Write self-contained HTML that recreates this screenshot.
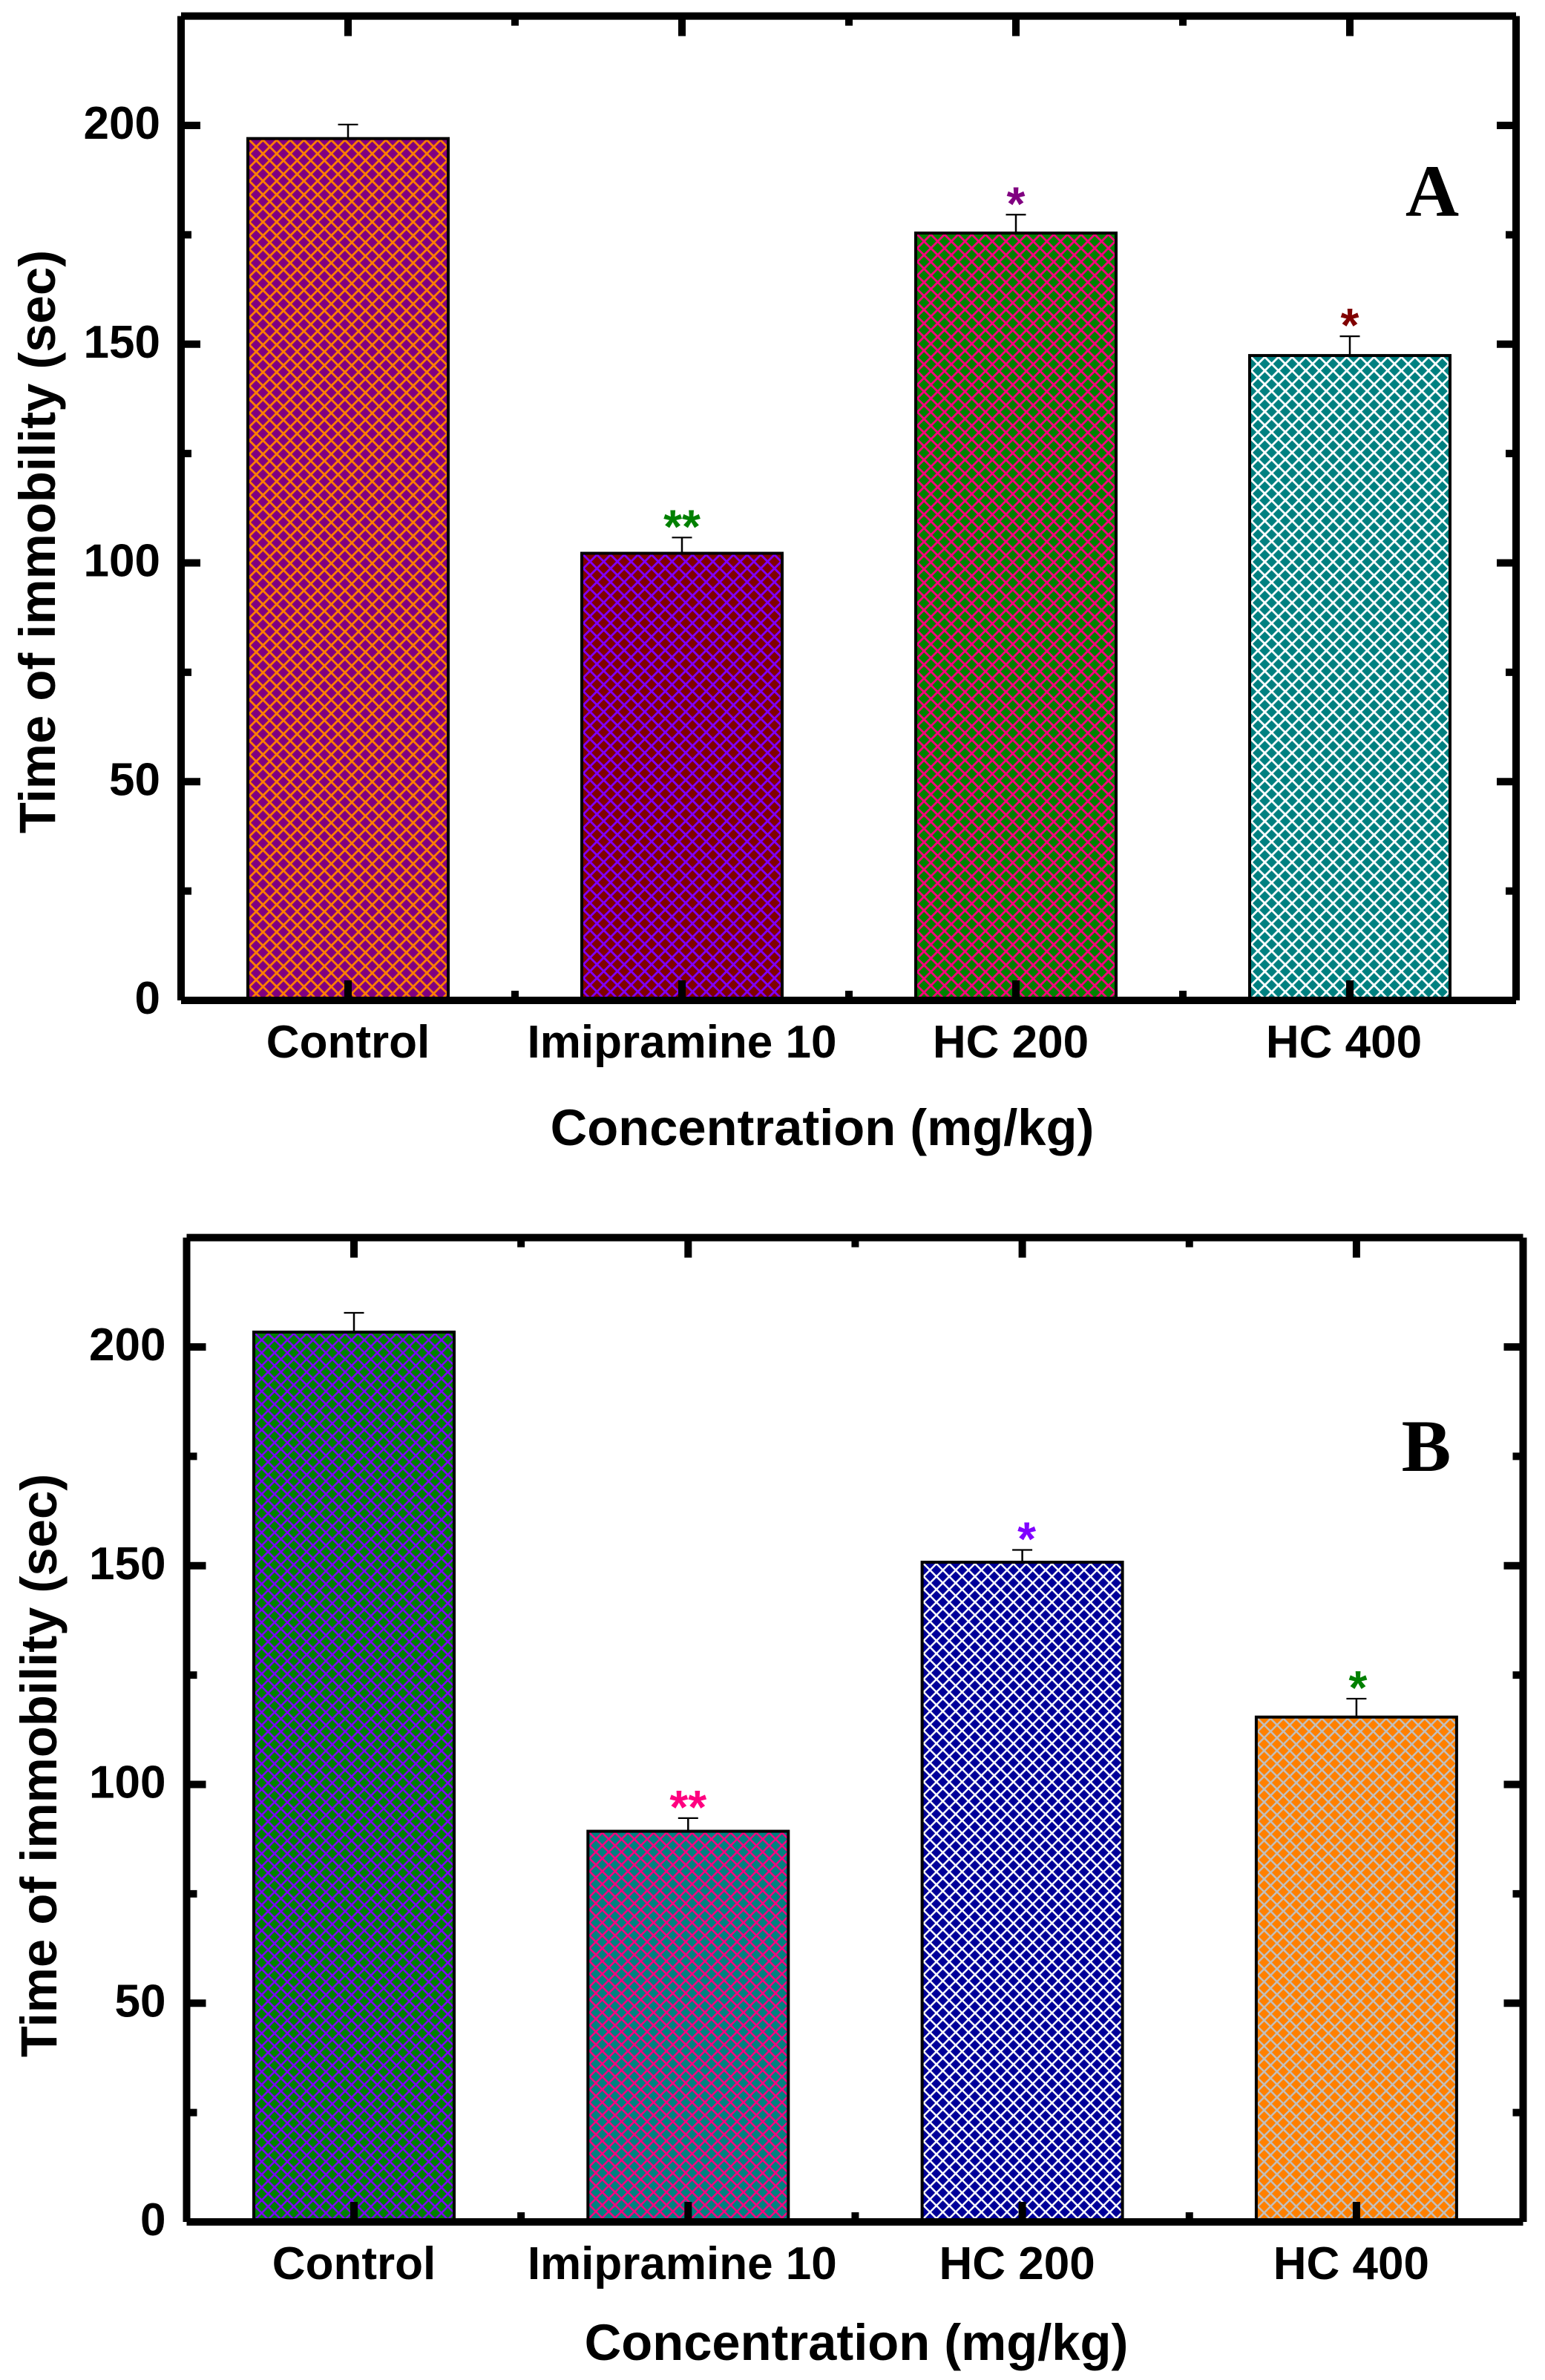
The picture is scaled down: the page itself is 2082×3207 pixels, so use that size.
<!DOCTYPE html>
<html lang="en">
<head>
<meta charset="utf-8">
<title>Time of immobility by concentration</title>
<style>
html,body{margin:0;padding:0;background:#fff;}
svg{display:block;}
text{font-family:"Liberation Sans",Arial,sans-serif;font-weight:bold;fill:#000;}
.panel-letter{font-family:"Liberation Serif","Times New Roman",serif;font-size:100px;text-anchor:middle;}
</style>
</head>
<body>
<svg id="figure" xmlns="http://www.w3.org/2000/svg" width="2082" height="3207" viewBox="0 0 2082 3207">
<rect x="0" y="0" width="2082" height="3207" fill="#ffffff"/>
<defs>
<pattern id="hatch-a-0" width="18.4" height="18.4" patternUnits="userSpaceOnUse"><rect width="19" height="19" fill="#800080"/><path d="M-2 -2L20.4 20.4M20.4 -2L-2 20.4M16.4 -2L20.4 2M-2 16.4L2 20.4M-2 2L2 -2M16.4 20.4L20.4 16.4" stroke="#ff8000" stroke-width="2.8" fill="none"/></pattern>
<pattern id="hatch-a-1" width="18.4" height="18.4" patternUnits="userSpaceOnUse"><rect width="19" height="19" fill="#800000"/><path d="M-2 -2L20.4 20.4M20.4 -2L-2 20.4M16.4 -2L20.4 2M-2 16.4L2 20.4M-2 2L2 -2M16.4 20.4L20.4 16.4" stroke="#8000ff" stroke-width="2.8" fill="none"/></pattern>
<pattern id="hatch-a-2" width="18.4" height="18.4" patternUnits="userSpaceOnUse"><rect width="19" height="19" fill="#008000"/><path d="M-2 -2L20.4 20.4M20.4 -2L-2 20.4M16.4 -2L20.4 2M-2 16.4L2 20.4M-2 2L2 -2M16.4 20.4L20.4 16.4" stroke="#ff0080" stroke-width="2.8" fill="none"/></pattern>
<pattern id="hatch-a-3" width="18.4" height="18.4" patternUnits="userSpaceOnUse"><rect width="19" height="19" fill="#008080"/><path d="M-2 -2L20.4 20.4M20.4 -2L-2 20.4M16.4 -2L20.4 2M-2 16.4L2 20.4M-2 2L2 -2M16.4 20.4L20.4 16.4" stroke="#ffffff" stroke-width="2.8" fill="none"/></pattern>
<pattern id="hatch-b-0" width="17.3" height="17.3" patternUnits="userSpaceOnUse"><rect width="18" height="18" fill="#008000"/><path d="M-2 -2L19.3 19.3M19.3 -2L-2 19.3M15.3 -2L19.3 2M-2 15.3L2 19.3M-2 2L2 -2M15.3 19.3L19.3 15.3" stroke="#8000ff" stroke-width="2.5" fill="none"/></pattern>
<pattern id="hatch-b-1" width="17.3" height="17.3" patternUnits="userSpaceOnUse"><rect width="18" height="18" fill="#008080"/><path d="M-2 -2L19.3 19.3M19.3 -2L-2 19.3M15.3 -2L19.3 2M-2 15.3L2 19.3M-2 2L2 -2M15.3 19.3L19.3 15.3" stroke="#ff0080" stroke-width="2.5" fill="none"/></pattern>
<pattern id="hatch-b-2" width="17.3" height="17.3" patternUnits="userSpaceOnUse"><rect width="18" height="18" fill="#000099"/><path d="M-2 -2L19.3 19.3M19.3 -2L-2 19.3M15.3 -2L19.3 2M-2 15.3L2 19.3M-2 2L2 -2M15.3 19.3L19.3 15.3" stroke="#ffffff" stroke-width="2.5" fill="none"/></pattern>
<pattern id="hatch-b-3" width="17.3" height="17.3" patternUnits="userSpaceOnUse"><rect width="18" height="18" fill="#ff8000"/><path d="M-2 -2L19.3 19.3M19.3 -2L-2 19.3M15.3 -2L19.3 2M-2 15.3L2 19.3M-2 2L2 -2M15.3 19.3L19.3 15.3" stroke="#c0c0c0" stroke-width="2.5" fill="none"/></pattern>
</defs>
<g id="panel-a"></g>
<g id="panel-b"></g>
</svg>
<script>
// Chart data
const categories = ['Control', 'Imipramine 10', 'HC 200', 'HC 400'];
const yTicks = [0, 50, 100, 150, 200];
const yMinorTicks = [25, 75, 125, 175];
const yMax = 225;
const meansA = [197, 102.2, 175.4, 147.4];
const errorsA = [3.2, 3.6, 4.2, 4.4];
const starsA = ['', '**', '*', '*'];
const meansB = [203.4, 89.3, 150.8, 115.4];
const errorsB = [4.4, 3, 2.8, 4.2];
const starsB = ['', '**', '*', '*'];

// Styles and layout (not data)
const starColorsA = ['#000', '#008000', '#800080', '#800000'];
const starColorsB = ['#000', '#ff0080', '#8000ff', '#008000'];
const labelShiftA = [0, 0, -7, -8];
const labelShiftB = [0, -8, -7, -7];
const starShiftA = [0, 0, 0, 0];
const starShiftB = [0, 0, 6, 2];

const NS = 'http://www.w3.org/2000/svg';
function make(tag, parent) {
  const node = document.createElementNS(NS, tag);
  parent.appendChild(node);
  return node;
}
function line(parent, x1, y1, x2, y2, w) {
  const l = make('line', parent);
  l.setAttribute('x1', x1);
  l.setAttribute('y1', y1);
  l.setAttribute('x2', x2);
  l.setAttribute('y2', y2);
  l.setAttribute('stroke', '#000');
  l.setAttribute('stroke-width', w);
  return l;
}
function label(parent, x, y, size, anchor, str) {
  const t = make('text', parent);
  t.setAttribute('x', x);
  t.setAttribute('y', y);
  t.setAttribute('font-size', size);
  t.setAttribute('text-anchor', anchor);
  t.textContent = str;
  return t;
}
function slug(s) {
  return s.toLowerCase().replace(/\s+/g, '-');
}

function drawPanel(cfg) {
  const g = document.getElementById(cfg.id);
  const xScale = function (i) { return cfg.x0 + i * cfg.step; };
  const yScale = function (v) { return cfg.bottom - v * cfg.unit; };
  const left = cfg.left;
  const right = cfg.right;
  const top = yScale(yMax);
  const bottom = yScale(0);
  const barW = 270;

  // bars and error bars
  cfg.means.forEach(function (v, i) {
    const slugName = slug(categories[i]);
    const cx = xScale(i);
    const yTop = yScale(v);
    const pattern = document.getElementById('hatch-' + cfg.key + '-' + i);
    pattern.setAttribute('x', cx - barW / 2 + 2);
    pattern.setAttribute('y', yTop + 2);

    const errTop = yScale(v + cfg.errors[i]);
    const stem = line(g, cx, yTop, cx, errTop, 2.5);
    
    
    const cap = line(g, cx - 13.5, errTop, cx + 13.5, errTop, 2.2);
    
    

    const r = make('rect', g);
    r.setAttribute('x', cx - barW / 2);
    r.setAttribute('y', yTop);
    r.setAttribute('width', barW);
    r.setAttribute('height', bottom - yTop);
    r.setAttribute('fill', 'url(#hatch-' + cfg.key + '-' + i + ')');
    r.setAttribute('stroke', '#000');
    r.setAttribute('stroke-width', 4);
    
    

    if (cfg.stars[i]) {
      const s = label(g, cx + cfg.starShift[i], errTop + 7, 64, 'middle', cfg.stars[i]);
      s.setAttribute('fill', cfg.starColors[i]);
      s.style.fill = cfg.starColors[i];
      
      
    }

    const xl = label(g, cx + cfg.labelShift[i], cfg.xLabelY, 62, 'middle', categories[i]);
    
    
  });

  // y ticks
  yTicks.forEach(function (v) {
    const y = yScale(v);
    const a = line(g, left, y, left + 26, y, 10);
    
    
    const b = line(g, right, y, right - 26, y, 10);
    
    
    const t = label(g, left - 28, y + 18, 62, 'end', String(v));
    
    
  });
  yMinorTicks.forEach(function (v) {
    const y = yScale(v);
    const a = line(g, left, y, left + 14, y, 10);
    
    
    const b = line(g, right, y, right - 14, y, 10);
    
    
  });

  // x ticks
  categories.forEach(function (c, i) {
    const x = xScale(i);
    const a = line(g, x, bottom, x, bottom - 27, 10);
    
    
    const b = line(g, x, top, x, top + 27, 10);
    
    
    if (i < categories.length - 1) {
      const mx = x + cfg.step / 2;
      const m1 = line(g, mx, bottom, mx, bottom - 13, 10);
      
      
      const m2 = line(g, mx, top, mx, top + 13, 10);
      
      
    }
  });

  // axes
  const axL = line(g, left, top, left, bottom, 10);
  
  
  const axR = line(g, right, top, right, bottom, 10);
  
  
  const axB = line(g, left, bottom, right, bottom, 10);
  
  
  const axT = line(g, left, top, right, top, 10);
  
  

  // titles
  const xt = label(g, cfg.xTitleX, cfg.xTitleY, 68.7, 'middle', 'Concentration (mg/kg)');
  
  
  const yt = label(g, 0, 0, 68.8, 'middle', 'Time of immobility (sec)');
  yt.setAttribute('transform', 'translate(' + cfg.yTitleX + ' ' + cfg.yTitleY + ') rotate(-90)');
  
  

  const letter = make('text', g);
  letter.setAttribute('class', 'panel-letter');
  letter.setAttribute('x', cfg.letterX);
  letter.setAttribute('y', cfg.letterY);
  letter.textContent = cfg.letter;
  
  
}

drawPanel({
  id: 'panel-a', key: 'a', letter: 'A',
  means: meansA, errors: errorsA, stars: starsA, starColors: starColorsA, labelShift: labelShiftA, starShift: starShiftA,
  x0: 469, step: 450, bottom: 1348, unit: 5.895, left: 244, right: 2043,
  xLabelY: 1425, xTitleX: 1108, xTitleY: 1543, yTitleX: 74, yTitleY: 730,
  letterX: 1930, letterY: 291
});
drawPanel({
  id: 'panel-b', key: 'b', letter: 'B',
  means: meansB, errors: errorsB, stars: starsB, starColors: starColorsB, labelShift: labelShiftB, starShift: starShiftB,
  x0: 477, step: 450.3, bottom: 2994, unit: 5.895, left: 251.5, right: 2052.5,
  xLabelY: 3071, xTitleX: 1154, xTitleY: 3180, yTitleX: 76, yTitleY: 2379,
  letterX: 1922, letterY: 1982
});
</script>
</body>
</html>
